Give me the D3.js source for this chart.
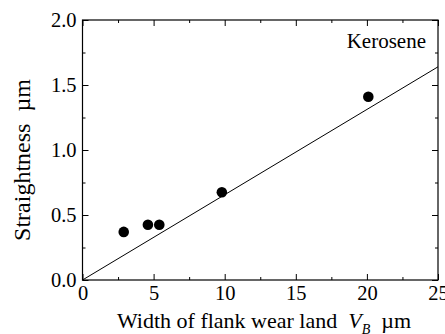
<!DOCTYPE html>
<html>
<head>
<meta charset="utf-8">
<script src="https://cdn.jsdelivr.net/npm/d3@7"></script>
<style>
  body { margin: 0; background: #fff; }
</style>
</head>
<body>
<svg width="445" height="334" font-family="'Liberation Serif', 'DejaVu Serif', serif"></svg>
<script>
// measured points (flank wear width, straightness)
const wearWidth = [2.9, 4.6, 5.4, 9.8, 20.1];
const straightness = [0.37, 0.425, 0.425, 0.675, 1.41];
// fitted line through the origin
const fitX = [0, 25];
const fitY = [0, 1.64];
const xTicks = [0, 5, 10, 15, 20, 25];
const yTicks = [0, 0.5, 1.0, 1.5, 2.0];

const svg = d3.select('svg');
const margin = {left: 82.5, right: 7, top: 20, bottom: 54};
const width = 445 - margin.left - margin.right;
const height = 334 - margin.top - margin.bottom;

const x = d3.scaleLinear().domain([0, 25]).range([0, width]);
const y = d3.scaleLinear().domain([0, 2]).range([height, 0]);

const g = svg.append('g').attr('transform', `translate(${margin.left},${margin.top})`);

// minor + major ticks pointing inward on all four sides
const xMinor = d3.range(0, 25.01, 2.5);
const yMinor = d3.range(0, 2.01, 0.25);
function tickLen(v, step) { return Math.abs(v / step - Math.round(v / step)) < 1e-6 ? 6 : 3; }

g.append('g').attr('transform', `translate(0,${height})`)
  .call(d3.axisBottom(x).tickValues(xMinor).tickSizeInner(0).tickSizeOuter(0).tickFormat(''))
  .call(s => s.selectAll('.tick line').attr('y2', d => -tickLen(d, 5)))
  .call(s => s.select('.domain').remove());
g.append('g')
  .call(d3.axisTop(x).tickValues(xMinor).tickSizeInner(0).tickSizeOuter(0).tickFormat(''))
  .call(s => s.selectAll('.tick line').attr('y2', d => tickLen(d, 5)))
  .call(s => s.select('.domain').remove());
g.append('g')
  .call(d3.axisLeft(y).tickValues(yMinor).tickSizeInner(0).tickSizeOuter(0).tickFormat(''))
  .call(s => s.selectAll('.tick line').attr('x2', d => tickLen(d, 0.5)))
  .call(s => s.select('.domain').remove());
g.append('g').attr('transform', `translate(${width},0)`)
  .call(d3.axisRight(y).tickValues(yMinor).tickSizeInner(0).tickSizeOuter(0).tickFormat(''))
  .call(s => s.selectAll('.tick line').attr('x2', d => -tickLen(d, 0.5)))
  .call(s => s.select('.domain').remove());

// tick labels
g.append('g').attr('transform', `translate(0,${height})`)
  .call(d3.axisBottom(x).tickValues(xTicks).tickSize(0).tickPadding(5).tickFormat(d3.format('d')))
  .attr('font-family', null).attr('font-size', 20.5)
  .call(s => s.select('.domain').remove())
  .call(s => s.selectAll('text').attr('fill', '#000'));
g.append('g')
  .call(d3.axisLeft(y).tickValues(yTicks).tickSize(0).tickPadding(6).tickFormat(d3.format('.1f')))
  .attr('font-family', null).attr('font-size', 20.5)
  .call(s => s.select('.domain').remove())
  .call(s => s.selectAll('text').attr('fill', '#000'));

// frame
g.append('rect').attr('width', width).attr('height', height)
  .attr('fill', 'none').attr('stroke', '#000').attr('stroke-width', 1.2);

// fit line
const line = d3.line().x(d => x(d[0])).y(d => y(d[1]));
g.append('path').datum(d3.zip(fitX, fitY))
  .attr('d', line).attr('fill', 'none').attr('stroke', '#000').attr('stroke-width', 1);

// points
g.append('g').selectAll('circle')
  .data(d3.zip(wearWidth, straightness))
  .enter().append('circle')
  .attr('cx', d => x(d[0])).attr('cy', d => y(d[1]))
  .attr('r', 5.3).attr('fill', '#000');

g.append('text').attr('x', width - 12).attr('y', 28)
  .attr('text-anchor', 'end').attr('font-size', 21).text('Kerosene');

// axis titles
const xt = svg.append('text').attr('x', 264).attr('y', 328)
  .attr('text-anchor', 'middle').attr('font-size', 22);
xt.append('tspan').text('Width of flank wear land\u00a0\u00a0');
xt.append('tspan').attr('font-style', 'italic').text('V');
xt.append('tspan').attr('font-size', 14).attr('font-style', 'italic').attr('dy', 6).text('B');
xt.append('tspan').attr('dy', -6).text('\u00a0\u00a0\u00b5m');

svg.append('text')
  .attr('transform', `translate(30,${margin.top + height / 2 + 10}) rotate(-90)`)
  .attr('text-anchor', 'middle').attr('font-size', 24)
  .text('Straightness\u00a0\u00a0\u00b5m');
</script>
</body>
</html>
